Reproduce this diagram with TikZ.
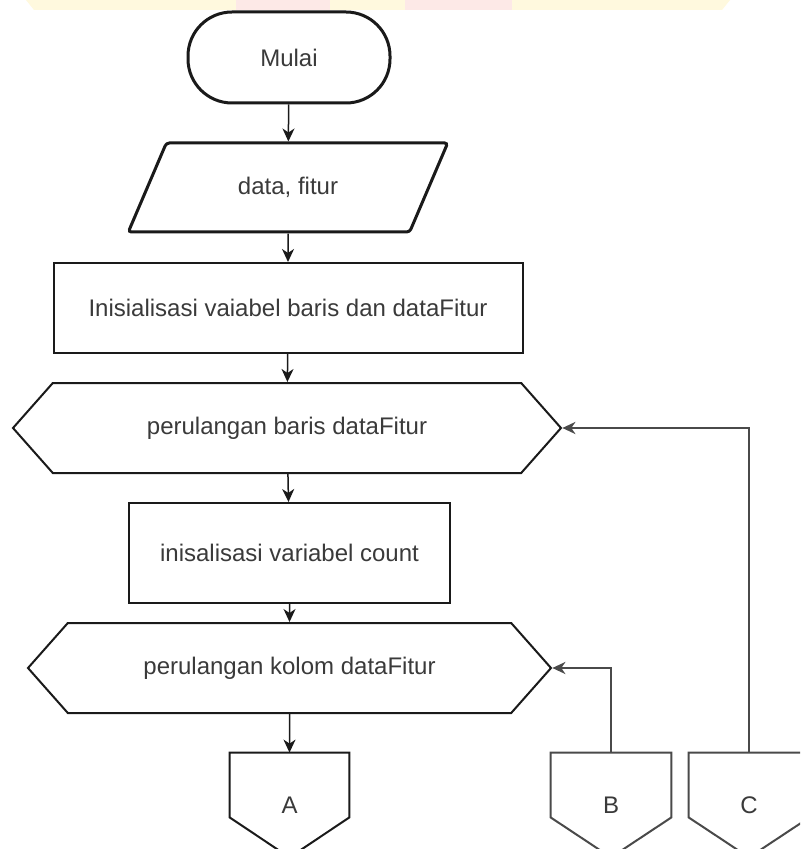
\documentclass[tikz,border=0pt]{standalone}
\usepackage{fontspec}
\setmainfont{Liberation Sans}
\usetikzlibrary{arrows.meta,shapes.geometric,shapes.symbols}
\definecolor{txt}{HTML}{3A3A3A}
\definecolor{ink}{HTML}{1A1A1A}
\definecolor{backline}{HTML}{4A4A4A}
\definecolor{wmyellow}{HTML}{FFF9DE}
\definecolor{wmpink}{HTML}{FDE9E7}
\tikzset{
  base/.style={draw=ink, inner sep=0pt, align=center, text=txt,
    font=\fontsize{12}{14}\selectfont},
  terminal/.style={base, rectangle, rounded corners=22pt, line width=1.5pt,
    minimum width=101pt, minimum height=45.5pt},
  iobox/.style={base, trapezium, trapezium left angle=52.6,
    trapezium right angle=127.4, trapezium stretches=true,
    rounded corners=1.5pt, line width=1.5pt,
    minimum width=160pt, minimum height=44.5pt},
  process/.style={base, rectangle, line width=1pt},
  loopbox/.style={base, signal, signal to=west and east,
    signal pointer angle=97, line width=1pt, minimum height=45pt},
  % off-page connector: the node holds the label, the outline is drawn
  % from its anchors (square top, pointed bottom)
  offpage/.style={base, draw=none, rectangle,
    minimum width=60pt, minimum height=52pt},
  offline/.style={draw=#1, line width=1pt, line join=miter},
  flow/.style={draw=ink, line width=0.75pt,
    -{Stealth[length=6.5pt, width=6pt, inset=2pt]}},
  backflow/.style={draw=backline, line width=1.2pt,
    -{Stealth[length=6.5pt, width=6pt, inset=2pt]}},
}
\newcommand{\offpageoutline}[2]{%
  \draw[offline=#2] (#1.north west) -- (#1.north east)
    -- ([yshift=20pt]#1.south east) -- (#1.south)
    -- ([yshift=20pt]#1.south west) -- cycle;}
\begin{document}
\begin{tikzpicture}[x=0.5pt, y=-0.5pt]
  \useasboundingbox (0,0) rectangle (800,849);
  \clip (0,0) rectangle (800,849);
  \fill[white] (0,0) rectangle (800,849);

  % faint logo band along the top edge
  \fill[wmyellow] (26,0) -- (730,0) -- (722,10) -- (34,10) -- cycle;
  \fill[wmpink] (236,0) rectangle (330,10);
  \fill[wmpink] (405,0) rectangle (512,10);

  % main column
  \node[terminal] (start) at (289,57.5) {Mulai};
  \node[iobox] (input) at (288,187.5) {data, fitur};
  \node[process, minimum width=234.5pt, minimum height=45pt]
    (init) at (288,308) {Inisialisasi vaiabel baris dan dataFitur};
  \node[loopbox, minimum width=274pt] (rows) at (287,428)
    {perulangan baris dataFitur};
  \node[process, minimum width=160.5pt, minimum height=50pt]
    (count) at (289.5,553) {inisalisasi variabel count};
  \node[loopbox, minimum width=261.5pt] (cols) at (289.5,668)
    {perulangan kolom dataFitur};

  % off-page connectors
  \node[offpage, minimum width=59.5pt] (A) at (289.5,805) {A};
  \node[offpage] (B) at (611,805) {B};
  \node[offpage] (C) at (749,805) {C};
  \offpageoutline{A}{ink}
  \offpageoutline{B}{backline}
  \offpageoutline{C}{backline}

  % forward flow
  \draw[flow] (start) -- (input);
  \draw[flow] (input) -- (init);
  \draw[flow] (init) -- (rows);
  \draw[flow] (rows) -- (count);
  \draw[flow] (count) -- (cols);
  \draw[flow] (cols) -- (A);

  % loop returns
  \draw[backflow] (B.north) |- (cols.east);
  \draw[backflow] (C.north) |- (rows.east);
\end{tikzpicture}
\end{document}
